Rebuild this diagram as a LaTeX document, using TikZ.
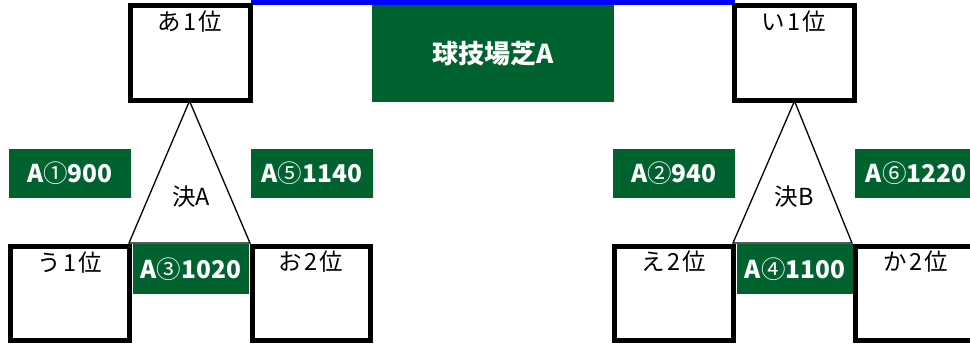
\documentclass[tikz,border=0pt]{standalone}
\usepackage{fontspec}
\setmainfont{Noto Sans CJK JP}
\definecolor{xgreen}{RGB}{0,99,47}
\newcommand{\dg}[1]{\hspace{2pt}#1\hspace{2pt}}
\newcommand{\cn}[1]{{\mdseries #1}}
\begin{document}
\begin{tikzpicture}[x=1pt,y=-1pt,
  box/.style={draw=black, line width=5pt, rectangle, inner sep=0pt, minimum height=94pt},
  gbox/.style={fill=xgreen, rectangle, inner sep=0pt, text=white, font=\fontsize{24.5}{26}\selectfont\bfseries},
  lbl/.style={inner sep=0pt, font=\fontsize{23.5}{26}\selectfont},
  tri/.style={draw=black, line width=1.3pt, line join=miter}]
\useasboundingbox (0,0) rectangle (970,347);
\clip (0,0) rectangle (970,347);
% top connector line
\fill[blue] (251,0) rectangle (735,5);
% boxes
\node[box, minimum width=120pt, minimum height=95pt] (bA) at (190.5,53) {};
\node[box, minimum width=120pt, minimum height=95pt] (bI) at (794.5,53) {};
\node[box, minimum width=119pt] (bU) at (70,293.5) {};
\node[box, minimum width=118pt] (bO) at (311.5,293.5) {};
\node[box, minimum width=119pt] (bE) at (674,293.5) {};
\node[box, minimum width=140pt] (bK) at (925.5,293.5) {};
% field
\node[gbox, minimum width=242pt, minimum height=97pt, font=\fontsize{26}{28}\selectfont\bfseries] (field) at (493,53.5) {球技場芝A};
% green match labels
\node[gbox, minimum width=122pt, minimum height=49pt] (m1) at (70,173.5) {A\cn{①}900};
\node[gbox, minimum width=122pt, minimum height=49pt] (m5) at (312,173.5) {A\cn{⑤}1140};
\node[gbox, minimum width=122pt, minimum height=49pt] (m2) at (674,173.5) {A\cn{②}940};
\node[gbox, minimum width=122pt, minimum height=49pt] (m6) at (916,173.5) {A\cn{⑥}1220};
\node[gbox, minimum width=116pt, minimum height=50pt] (m3) at (191,269) {A\cn{③}1020};
\node[gbox, minimum width=116pt, minimum height=50pt] (m4) at (795,269) {A\cn{④}1100};
% triangles
\coordinate (apA) at (189.5,101);
\coordinate (blA) at (129,243);
\coordinate (brA) at (250,243);
\coordinate (apB) at (794.5,101);
\coordinate (blB) at (733,243);
\coordinate (brB) at (852,243);
\draw[tri] (apA) -- (blA) -- (brA) -- cycle;
\draw[tri] (apB) -- (blB) -- (brB) -- cycle;
% texts
\node[lbl] (tA) at (190,21.5) {あ\dg{1}位};
\node[lbl] (tI) at (794,22) {い\dg{1}位};
\node[lbl] (tU) at (70,263) {う\dg{1}位};
\node[lbl] (tO) at (311,262) {お\dg{2}位};
\node[lbl] (tE) at (674,262) {え\dg{2}位};
\node[lbl] (tK) at (916,262) {か\dg{2}位};
\node[lbl] (kA) at (191,197) {決A};
\node[lbl] (kB) at (794,197) {決B};
\end{tikzpicture}
\end{document}
